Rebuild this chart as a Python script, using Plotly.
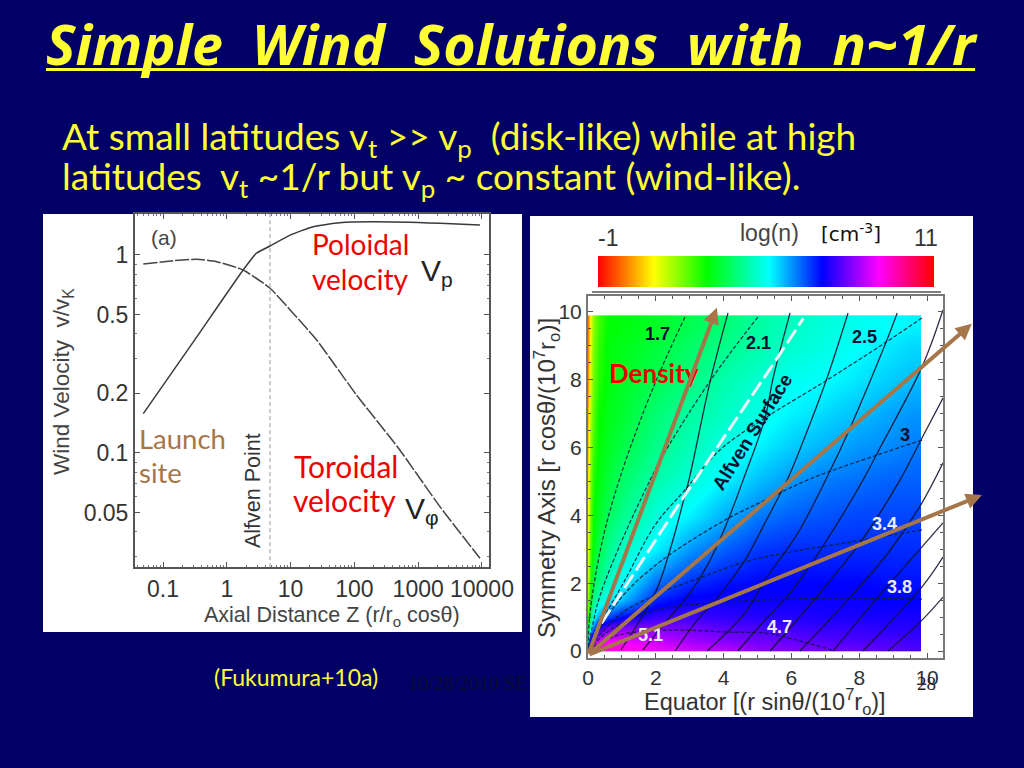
import plotly.graph_objects as go

# ---- left panel data ----
z_vp = [0.049, 0.3, 1.8, 2.9, 4.75, 9.8, 22.7, 59, 197, 2190, 9300]
v_poloidal = [0.158, 0.365, 0.84, 1.02, 1.11, 1.26, 1.39, 1.455, 1.47, 1.445, 1.417]
z_vphi = [0.049, 0.145, 0.337, 0.695, 1.8, 4.75, 11, 25.6, 108, 488, 2190, 9300]
v_toroidal = [0.90, 0.936, 0.951, 0.925, 0.84, 0.679, 0.507, 0.372, 0.196, 0.106, 0.0536, 0.0294]
alfven_z = [4.75, 4.75]
alfven_v = [0.0265, 1.61]
left_xticks = [0.1, 1, 10, 100, 1000, 10000]
left_xlabels = ["0.1", "1", "10", "100", "1000", "10000"]
left_yticks = [0.05, 0.1, 0.2, 0.5, 1]
left_ylabels = ["0.05", "0.1", "0.2", "0.5", "1"]

# ---- right panel data ----
equator = [0, 0.05, 0.15, 0.3, 0.6, 1, 2, 3, 4, 5, 6, 7, 8, 9, 9.55]
axis_height = [0.1, 0.3, 0.7, 1, 1.5, 2, 3, 4, 5, 6, 7, 8, 9, 9.6]
log_n = [
    [9.5, 9.5, 9.5, 9.4, 9.3, 9.2, 8.9, 8.6, 8.4, 8.1, 8.0, 7.9, 7.8, 7.7, 7.6],
    [5.0, 7.5, 8.5, 8.8, 9.0, 8.9, 8.6, 8.3, 8.1, 7.9, 7.8, 7.7, 7.6, 7.6, 7.5],
    [3.0, 4.5, 6.0, 7.2, 7.8, 8.0, 8.0, 7.9, 7.7, 7.6, 7.5, 7.4, 7.4, 7.3, 7.3],
    [2.5, 3.5, 5.0, 5.8, 6.5, 7.0, 7.5, 7.5, 7.4, 7.3, 7.3, 7.2, 7.2, 7.2, 7.2],
    [2.0, 2.8, 4.0, 4.6, 5.2, 5.6, 6.8, 7.1, 7.1, 7.1, 7.1, 7.1, 7.1, 7.0, 7.0],
    [1.5, 2.5, 3.5, 4.0, 4.6, 5.1, 6.2, 6.7, 6.9, 7.0, 7.0, 7.0, 7.0, 6.9, 6.9],
    [1.2, 2.2, 3.0, 3.5, 4.1, 4.6, 5.2, 5.9, 6.3, 6.6, 6.7, 6.7, 6.7, 6.7, 6.7],
    [1.0, 2.0, 2.8, 3.2, 3.7, 4.1, 4.8, 5.2, 5.7, 6.1, 6.3, 6.4, 6.5, 6.5, 6.5],
    [0.8, 1.8, 2.6, 3.0, 3.4, 3.8, 4.4, 4.8, 5.2, 5.6, 5.9, 6.1, 6.2, 6.3, 6.3],
    [0.6, 1.6, 2.4, 2.9, 3.2, 3.5, 4.1, 4.5, 4.9, 5.2, 5.5, 5.7, 5.9, 6.0, 6.1],
    [0.4, 1.4, 2.2, 2.8, 3.1, 3.3, 3.9, 4.3, 4.6, 4.9, 5.2, 5.4, 5.6, 5.8, 5.9],
    [0.2, 1.2, 2.0, 2.6, 3.0, 3.2, 3.6, 4.0, 4.4, 4.7, 5.0, 5.1, 5.3, 5.5, 5.6],
    [0.1, 1.0, 1.9, 2.5, 3.0, 3.1, 3.4, 3.8, 4.1, 4.4, 4.7, 4.9, 5.1, 5.3, 5.4],
    [0.0, 0.9, 1.8, 2.4, 2.9, 3.0, 3.2, 3.6, 3.9, 4.3, 4.6, 4.8, 5.0, 5.1, 5.2],
]

field_lines = [
    ([4.13, 3.60, 3.01, 2.80, 2.42, 1.98, 0.97], [9.97, 7.94, 5.19, 4.37, 2.98, 1.71, 0.03]),
    ([5.96, 5.46, 5.22, 4.63, 4.13, 3.60, 3.07, 2.27, 1.62], [9.97, 8.05, 6.87, 5.19, 3.86, 2.68, 1.80, 0.83, 0.03]),
    ([7.67, 7.05, 6.34, 5.90, 5.22, 4.63, 3.83, 3.16, 2.57], [9.97, 8.05, 6.17, 5.10, 3.78, 2.68, 1.59, 0.83, 0.0]),
    ([9.12, 8.76, 7.73, 7.08, 6.19, 5.22, 4.63, 3.51], [9.97, 9.03, 6.58, 5.19, 3.48, 2.09, 1.12, 0.0]),
    ([10.47, 9.85, 8.55, 8.11, 6.99, 5.96, 5.22, 4.42], [10.06, 8.38, 5.87, 5.04, 3.19, 1.71, 0.91, 0.0]),
    ([10.47, 9.85, 9.20, 8.08, 6.84, 5.37], [7.46, 6.28, 5.04, 3.27, 1.71, 0.0]),
    ([10.47, 9.85, 8.85, 7.58, 6.25], [5.55, 4.37, 2.89, 1.42, 0.0]),
    ([10.47, 9.85, 8.55, 7.23], [3.78, 3.07, 1.59, 0.0]),
    ([10.47, 9.85, 8.11], [2.77, 1.89, 0.0]),
    ([10.47, 9.85, 8.85], [1.59, 0.91, 0.0]),
]
density_contours = [
    ([2.86, 1.92, 0.94, 0.41, 0.06, 0], [9.85, 7.76, 5.10, 3.19, 1.12, 0]),
    ([5.01, 3.66, 2.27, 1.83, 0.88, 0.29, 0], [9.85, 8.05, 5.87, 5.04, 2.98, 1.42, 0]),
    ([9.85, 8.76, 7.05, 5.22, 3.89, 2.86, 1.98, 1.09, 0.35, 0], [9.82, 9.09, 7.99, 6.87, 5.93, 4.75, 3.72, 2.09, 0.77, 0]),
    ([9.85, 8.53, 6.61, 5.22, 4.04, 2.27, 1.18, 0.50, 0], [6.22, 5.78, 5.10, 4.45, 3.86, 2.74, 1.80, 0.91, 0]),
    ([9.85, 8.08, 5.81, 4.63, 3.36, 1.98, 1.00, 0.29, 0], [3.57, 3.27, 2.89, 2.63, 2.18, 1.65, 1.12, 0.41, 0]),
    ([9.85, 7.20, 5.22, 3.30, 1.83, 0.65, 0], [1.53, 1.56, 1.50, 1.39, 1.15, 0.62, 0]),
    ([7.20, 5.81, 5.22, 4.13, 2.48, 1.18, 0.50, 0], [0.03, 0.41, 0.53, 0.56, 0.62, 0.53, 0.32, 0]),
]
alfven_x = [0.40, 2.76, 5.61, 6.35]
alfven_y = [0.82, 4.45, 8.68, 9.81]
arrow_tips_x = [3.80, 11.32, 11.62]
arrow_tips_y = [10.12, 9.65, 4.60]
contour_labels = ["1.7", "2.1", "2.5", "3", "3.4", "3.8", "4.7", "5.1"]
contour_label_x = [2.04, 5.03, 8.14, 9.35, 8.73, 9.20, 5.66, 1.83]
contour_label_y = [9.35, 9.09, 9.26, 6.38, 3.74, 1.88, 0.71, 0.47]
right_ticks = [0, 2, 4, 6, 8, 10]

NAVY = "#000066"
YELLOW = "#FFFF33"
BROWN = "#A5764A"
SANS = "Liberation Sans"
HAND = "Lato"
W, H = 1024, 768


def px(x):
    return x / W


def py(y):
    return 1 - y / H


rainbow = [[0, "#ff0000"], [0.166, "#ffff00"], [0.325, "#00ff00"], [0.51, "#00ffff"],
           [0.668, "#0000ff"], [0.836, "#ff00ff"], [1, "#ff0000"]]

fig = go.Figure()
fig.add_trace(go.Scatter(x=z_vp, y=v_poloidal, mode="lines", xaxis="x", yaxis="y", line_shape="spline",
                         line=dict(color="#3a3a3a", width=1.5, smoothing=0.5)))
fig.add_trace(go.Scatter(x=z_vphi, y=v_toroidal, mode="lines", xaxis="x", yaxis="y", line_shape="spline",
                         line=dict(color="#444444", width=1.5, dash="14px,2px", smoothing=0.5)))
fig.add_trace(go.Scatter(x=alfven_z, y=alfven_v, mode="lines", xaxis="x", yaxis="y",
                         line=dict(color="#999999", width=1, dash="4px,3px")))

fig.add_trace(go.Heatmap(x=equator, y=axis_height, z=log_n, xaxis="x2", yaxis="y2",
                         zsmooth="best", zmin=-1, zmax=11, colorscale=rainbow,
                         colorbar=dict(orientation="h", x=px(597.5), xanchor="left", y=py(255.5),
                                       yanchor="top", len=336, lenmode="pixels", thickness=31,
                                       thicknessmode="pixels", xpad=0, ypad=0, outlinewidth=0,
                                       showticklabels=False, ticks="")))
for xs, ys in density_contours:
    fig.add_trace(go.Scatter(x=xs, y=ys, mode="lines", xaxis="x2", yaxis="y2", line_shape="spline",
                             line=dict(color="rgba(10,30,60,0.9)", width=1.2, dash="4px,2px")))
for xs, ys in field_lines:
    fig.add_trace(go.Scatter(x=xs, y=ys, mode="lines", xaxis="x2", yaxis="y2", line_shape="spline",
                             line=dict(color="rgba(20,20,50,0.9)", width=1.3)))
fig.add_trace(go.Scatter(x=alfven_x, y=alfven_y, mode="lines", xaxis="x2", yaxis="y2",
                         line=dict(color="#EAF6FF", width=3, dash="16px,5px")))

shapes = [
    dict(type="rect", xref="paper", yref="paper", x0=px(43), x1=px(522), y0=py(632), y1=py(214),
         fillcolor="white", line_width=0, layer="below"),
    dict(type="rect", xref="paper", yref="paper", x0=px(530), x1=px(973), y0=py(717), y1=py(216),
         fillcolor="white", line_width=0, layer="below"),
    dict(type="line", xref="paper", yref="paper", x0=px(592), x1=px(941), y0=py(292), y1=py(292),
         line=dict(color="#555555", width=1.5)),
    dict(type="line", xref="paper", yref="paper", x0=px(46), x1=px(975), y0=py(69.5), y1=py(69.5),
         line=dict(color=YELLOW, width=3)),
]


def label(text, x, y, size, color, family=SANS, angle=0, xanchor="left", yanchor="middle"):
    return dict(text=text, x=px(x), y=py(y), xref="paper", yref="paper", showarrow=False,
                xanchor=xanchor, yanchor=yanchor, textangle=angle, borderpad=0, borderwidth=0,
                font=dict(size=size, color=color, family=family))


anns = [
    label("<b><i>Simple  Wind  Solutions  with  n~1/r</i></b>", 46, 43, 55.6, YELLOW, "Noto Sans"),
    label("At small latitudes v<sub>t</sub> >> v<sub>p</sub>  (disk-like) while at high", 62, 138, 37, YELLOW, HAND),
    label("latitudes  v<sub>t</sub> ~1/r but v<sub>p</sub> ~ constant (wind-like).", 62, 179, 37, YELLOW, HAND),
    label("(Fukumura+10a)", 214, 677, 23, YELLOW, HAND),
    label("10/28/2010 SE", 408, 683, 20, "#0b0b30", "Liberation Serif"),
    label("28", 917, 683, 19, "#222222", "Liberation Serif"),
    label("(a)", 151, 237, 21, "#444444"),
    label("Poloidal", 312, 244, 28, "#EE0000", HAND),
    label("velocity", 312, 279, 28, "#EE0000", HAND),
    label("V<sub>p</sub>", 421, 272, 30, "#222222"),
    label("Launch", 139, 438, 27.5, BROWN, HAND),
    label("site", 139, 472, 27.5, BROWN, HAND),
    label("Toroidal", 294, 466, 30, "#EE0000", HAND),
    label("velocity", 293, 500, 30, "#EE0000", HAND),
    label("V<sub>φ</sub>", 405, 510, 30, "#222222"),
    label("Alfven Point", 253, 491, 21.5, "#333333", angle=-90, xanchor="center"),
    label("Wind Velocity  v/v<sub>K</sub>", 63, 382, 22.5, "#444444", angle=-90, xanchor="center"),
    label("Axial Distance Z (r/r<sub>o</sub> cosθ)", 332, 616, 21.5, "#444444", xanchor="center"),
    label("<b>Density</b>", 609, 373, 26, "#EE0000", HAND),
    label("log(n)", 740, 233, 23, "#444444"),
    label("[cm<sup>-3</sup>]", 821, 233, 20, "#111111", "DejaVu Sans"),
    label("-1", 598, 238, 23, "#333333"),
    label("11", 914, 238, 23, "#333333"),
    label("Symmetry Axis [r cosθ/(10<sup>7</sup>r<sub>o</sub>)]", 547, 478, 24, "#333333", angle=-90, xanchor="center"),
    label("Equator [(r sinθ/(10<sup>7</sup>r<sub>o</sub>)]", 765, 701, 23.5, "#333333", xanchor="center"),
]
for i, t in enumerate(contour_labels):
    anns.append(dict(text=f"<b>{t}</b>", x=contour_label_x[i], y=contour_label_y[i], xref="x2", yref="y2",
                     showarrow=False, font=dict(size=18, family=SANS, color="#0a1030" if i < 4 else "#ECECFF")))
anns.append(dict(text="<b>Alfven Surface</b>", x=4.86, y=6.46, xref="x2", yref="y2", showarrow=False,
                 textangle=-58, font=dict(size=19, family=SANS, color="#0a1030")))
for tx, ty in zip(arrow_tips_x, arrow_tips_y):
    anns.append(dict(text="", x=tx, y=ty, xref="x2", yref="y2", axref="x2", ayref="y2", ax=0, ay=-0.12,
                     showarrow=True, arrowhead=2, arrowsize=0.8, arrowwidth=4, arrowcolor=BROWN))

ax_common = dict(showgrid=False, zeroline=False, showline=True, mirror="ticks", ticks="inside",
                 tickcolor="#555555")

fig.update_layout(
    width=W, height=H, margin=dict(l=0, r=0, t=0, b=0, autoexpand=False), autosize=False, showlegend=False,
    paper_bgcolor=NAVY, plot_bgcolor="rgba(0,0,0,0)", shapes=shapes, annotations=anns,
    xaxis=dict(**ax_common, type="log", range=[-1.44, 4.11], domain=[px(135), px(489)], anchor="y",
               tickmode="array", tickvals=left_xticks, ticktext=left_xlabels, ticklen=5,
               tickfont=dict(size=23, family=SANS, color="#333333"),
               linecolor="#555555", linewidth=2, minor=dict(ticks="inside", ticklen=2, tickcolor="#777777", dtick="D1")),
    yaxis=dict(**ax_common, type="log", range=[-1.576, 0.207], domain=[py(567), py(214)], anchor="x",
               tickmode="array", tickvals=left_yticks, ticktext=left_ylabels, ticklen=5,
               tickfont=dict(size=23, family=SANS, color="#333333"),
               linecolor="#555555", linewidth=2, minor=dict(ticks="inside", ticklen=2, tickcolor="#777777", dtick="D1")),
    xaxis2=dict(**ax_common, range=[0, 10.47], domain=[px(588), px(943)], anchor="y2",
                tickvals=right_ticks, ticklen=5, linecolor="#777777", linewidth=2,
                tickfont=dict(size=21, family=SANS, color="#333333"),
                minor=dict(ticks="inside", ticklen=3, dtick=0.5, tickcolor="#555555")),
    yaxis2=dict(**ax_common, range=[-0.206, 10.47], domain=[py(658), py(296)], anchor="x2",
                tickvals=right_ticks, ticklen=5, linecolor="#777777", linewidth=2,
                tickfont=dict(size=21, family=SANS, color="#333333"),
                minor=dict(ticks="inside", ticklen=3, dtick=0.5, tickcolor="#555555")),
)

fig.write_html("out.html", config={"displayModeBar": False},
               post_script="document.body.style.margin='0';document.body.style.background='#000066';document.body.style.overflow='hidden';")
